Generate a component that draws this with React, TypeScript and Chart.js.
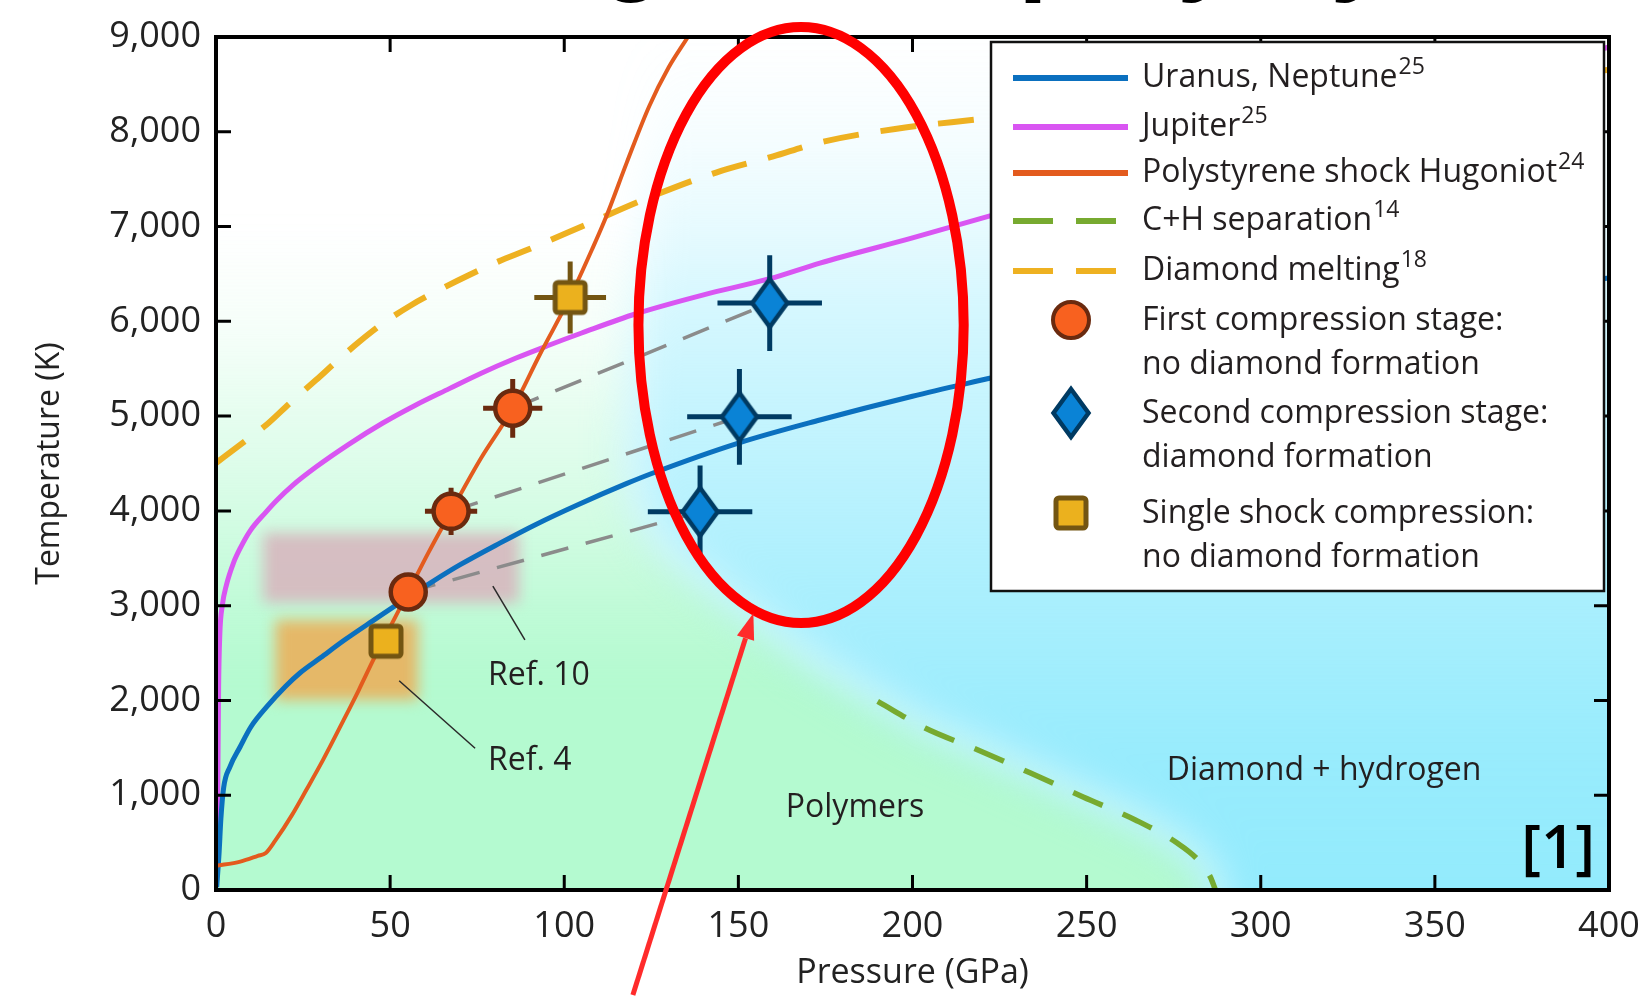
import React, { useEffect, useRef } from 'react';
import { Chart, registerables } from 'chart.js';

Chart.register(...registerables);

// ---------------- data (Pressure GPa, Temperature K) ----------------
const pressureTicks = [0, 50, 100, 150, 200, 250, 300, 350, 400];
const temperatureTicks = [0, 1000, 2000, 3000, 4000, 5000, 6000, 7000, 8000, 9000];

const uranusNeptune: [number, number][] = [
  [0.2, 30], [0.9, 400], [1.4, 750], [2.2, 1080], [4, 1300], [6.9, 1509], [10, 1720], [14.6, 1934],
  [20, 2150], [24.1, 2290], [30, 2450], [37, 2640], [45, 2840], [55.2, 3090], [62.4, 3260], [70, 3430],
  [81.5, 3660], [92, 3860], [103.6, 4060], [118, 4290], [125.5, 4400], [150, 4716], [173.4, 4959],
  [200, 5210], [222.5, 5402], [260, 5720], [300, 5980], [350, 6230], [400, 6457],
];

const jupiter: [number, number][] = [
  [0.2, 100], [0.5, 1000], [0.75, 2140], [1.1, 2700], [1.8, 3000], [3, 3220], [5, 3450], [7, 3610],
  [9.8, 3790], [14.4, 3990], [17.4, 4110], [22, 4270], [28.7, 4463], [38, 4700], [47.9, 4927], [57, 5110],
  [67, 5290], [76, 5450], [86, 5610], [95, 5740], [105, 5877], [120.6, 6080], [140, 6280], [159, 6450],
  [173.4, 6615], [200, 6880], [222.5, 7115], [260, 7520], [300, 7920], [350, 8420], [400, 8894],
];

const polystyreneHugoniot: [number, number][] = [
  [0, 255], [7, 300], [12, 360], [14.3, 390], [17, 520], [21.8, 790], [26, 1060], [30.7, 1370],
  [36.6, 1790], [41, 2110], [45.2, 2430], [48.8, 2690], [55.2, 3144], [61, 3560], [67.5, 3995],
  [76, 4550], [85.2, 5082], [93, 5650], [101.7, 6257], [108, 6760], [112, 7100], [118, 7680],
  [124.4, 8270], [130, 8680], [135.5, 9000], [138, 9150],
];

const chSeparation: [number, number][] = [
  [190, 1990], [203.6, 1709], [218.8, 1477], [233.9, 1234], [249, 981], [264, 739], [276, 496],
  [282, 317], [285.5, 140], [287, 0],
];

const diamondMelting: [number, number][] = [
  [0, 4505], [7, 4700], [14.4, 4906], [21, 5130], [28.7, 5380], [35, 5590], [41, 5780], [48, 5980],
  [56, 6170], [64, 6330], [72.7, 6489], [81, 6630], [90, 6763], [106, 7016], [122.6, 7280],
  [143.6, 7570], [160, 7740], [172.7, 7881], [195, 8030], [221.9, 8145], [260, 8330], [300, 8460],
  [350, 8570], [400, 8651],
];

const firstStageP = [55.2, 67.5, 85.2];
const firstStageT = [3144, 3995, 5082];
const firstStageErrP = [3, 7.5, 8.5];
const firstStageErrT = [120, 250, 310];

const secondStageP = [139, 150.3, 159];
const secondStageT = [3990, 4993, 6193];
const secondStageErrP = [15, 15, 15];
const secondStageErrT = [490, 505, 505];

const singleShockP = [48.8, 101.7];
const singleShockT = [2625, 6252];
const singleShockErrP = [2, 10.3];
const singleShockErrT = [80, 380];

// background phase regions
const polymerDiamondBoundary: [number, number][] = [
  [128, 10000], [124, 7500], [119, 5500], [118, 4500], [121, 4000], [128, 3600], [140, 3250],
  [155, 2850], [172, 2380], [190, 1990],
];
const ref10Box = { p: [13.5, 87], t: [3030, 3770] };
const ref4Box = { p: [17, 58], t: [2005, 2850] };
const ref10Leader: [number, number][] = [[79.5, 3207], [88.7, 2638]];
const ref4Leader: [number, number][] = [[52.6, 2208], [74.4, 1495]];

// highlight annotations
const highlightEllipse = { p: 168, t: 5961, rp: 46.7, rt: 3144 };
const highlightArrow: [number, number][] = [[119.7, -1108], [154.3, 2919]];

const regionLabels = [
  { text: 'Ref. 10', p: 78.1, t: 2163, align: 'left' },
  { text: 'Ref. 4', p: 78.1, t: 1266, align: 'left' },
  { text: 'Polymers', p: 183.5, t: 770, align: 'center' },
  { text: 'Diamond + hydrogen', p: 318.2, t: 1160, align: 'center' },
];

// ---------------- styling ----------------
const FONT = '"Open Sans", "Noto Sans", sans-serif';
const TEXT = '#231f20';
const C_URANUS = '#0b70bf';
const C_JUPITER = '#d955f2';
const C_HUGONIOT = '#e35b1e';
const C_CH = '#77aa30';
const C_MELT = '#eeb121';
const C_GREY = '#8b8b8b';
const C_CIRCLE = '#f8611f';
const C_CIRCLE_EDGE = '#6a2a0f';
const C_DIAMOND = '#0a83d6';
const C_DIAMOND_EDGE = '#003a62';
const C_SQUARE = '#ebb11e';
const C_SQUARE_EDGE = '#735512';

const toXY = (arr: [number, number][]) => arr.map(([p, t]) => ({ x: p, y: t }));

function errorSegments(P: number[], T: number[], eP: number[], eT: number[]) {
  const pts: { x: number; y: number | null }[] = [];
  P.forEach((p, i) => {
    pts.push({ x: p - eP[i], y: T[i] }, { x: p + eP[i], y: T[i] }, { x: p, y: null });
    pts.push({ x: p, y: T[i] - eT[i] }, { x: p, y: T[i] + eT[i] }, { x: p, y: null });
  });
  return pts;
}

function connectorSegments() {
  const pts: { x: number; y: number | null }[] = [];
  firstStageP.forEach((p, i) => {
    pts.push({ x: p, y: firstStageT[i] }, { x: secondStageP[i], y: secondStageT[i] }, { x: secondStageP[i], y: null });
  });
  return pts;
}

function makeDiamond() {
  const hw = 17.5, hh = 24, lw = 4.5;
  const c = document.createElement('canvas');
  c.width = 46; c.height = 60;
  const g = c.getContext('2d')!;
  const cx = c.width / 2, cy = c.height / 2;
  g.beginPath();
  g.moveTo(cx, cy - hh); g.lineTo(cx + hw, cy); g.lineTo(cx, cy + hh); g.lineTo(cx - hw, cy); g.closePath();
  g.fillStyle = C_DIAMOND; g.fill();
  g.lineWidth = lw; g.lineJoin = 'miter'; g.strokeStyle = C_DIAMOND_EDGE; g.stroke();
  return c;
}

function makeSquare() {
  const s = 30, lw = 5;
  const c = document.createElement('canvas');
  c.width = 40; c.height = 40;
  const g = c.getContext('2d')!;
  const o = (c.width - s) / 2;
  g.beginPath();
  (g as any).roundRect ? (g as any).roundRect(o, o, s, s, 3) : g.rect(o, o, s, s);
  g.fillStyle = C_SQUARE; g.fill();
  g.lineWidth = lw; g.strokeStyle = C_SQUARE_EDGE; g.stroke();
  return c;
}

function addStops(grad: CanvasGradient, stops: [number, number][], rgb: string) {
  stops.forEach(([t, a]) => grad.addColorStop(Math.min(1, Math.max(0, (9000 - t) / 9000)), `rgba(${rgb},${a})`));
}

function makeBackgroundPlugin() {
  return {
    id: 'phaseBackground',
    beforeDatasetsDraw(chart: any) {
      const { ctx, chartArea: a, scales } = chart;
      const X = (p: number) => scales.x.getPixelForValue(p);
      const Y = (t: number) => scales.y.getPixelForValue(t);
      ctx.save();
      ctx.beginPath();
      ctx.rect(a.left, a.top, a.right - a.left, a.bottom - a.top);
      ctx.clip();
      ctx.fillStyle = '#ffffff';
      ctx.fillRect(a.left, a.top, a.right - a.left, a.bottom - a.top);

      const y0 = Y(9000), y1 = Y(0);
      // polymers (green) region
      const gGreen = ctx.createLinearGradient(0, y0, 0, y1);
      addStops(gGreen, [[9000, 0], [7000, 0], [5900, 0.12], [4900, 0.36], [4000, 0.56], [3000, 0.84], [2200, 1], [0, 1]], '180,250,208');
      ctx.filter = 'blur(16px)';
      ctx.beginPath();
      ctx.moveTo(X(-50), Y(-1000));
      ctx.lineTo(X(-50), Y(10000));
      polymerDiamondBoundary.forEach(([p, t]) => ctx.lineTo(X(p), Y(t)));
      chSeparation.forEach(([p, t]) => ctx.lineTo(X(p), Y(t)));
      ctx.lineTo(X(287), Y(-1000));
      ctx.closePath();
      ctx.fillStyle = gGreen;
      ctx.fill();

      // diamond + hydrogen (cyan) region
      const gCyan = ctx.createLinearGradient(0, y0, 0, y1);
      addStops(gCyan, [[9000, 0], [8000, 0.08], [7000, 0.22], [6200, 0.38], [4100, 0.66], [3000, 0.8], [1500, 0.95], [0, 1]], '147,235,253');
      ctx.filter = 'blur(22px)';
      ctx.beginPath();
      ctx.moveTo(X(450), Y(10000));
      ctx.lineTo(X(450), Y(-1000));
      ctx.lineTo(X(287), Y(-1000));
      [...chSeparation].reverse().forEach(([p, t]) => ctx.lineTo(X(p), Y(t)));
      [...polymerDiamondBoundary].reverse().forEach(([p, t]) => ctx.lineTo(X(p), Y(t)));
      ctx.closePath();
      ctx.fillStyle = gCyan;
      ctx.fill();

      // previous-experiment regions
      ctx.filter = 'blur(7px)';
      ctx.fillStyle = 'rgba(214,186,192,0.95)';
      ctx.fillRect(X(ref10Box.p[0]), Y(ref10Box.t[1]), X(ref10Box.p[1]) - X(ref10Box.p[0]), Y(ref10Box.t[0]) - Y(ref10Box.t[1]));
      ctx.fillStyle = 'rgba(230,182,100,0.97)';
      ctx.fillRect(X(ref4Box.p[0]), Y(ref4Box.t[1]), X(ref4Box.p[1]) - X(ref4Box.p[0]), Y(ref4Box.t[0]) - Y(ref4Box.t[1]));
      ctx.filter = 'none';

      // leader lines
      ctx.strokeStyle = '#2a2a2a';
      ctx.lineWidth = 1.5;
      [ref10Leader, ref4Leader].forEach((seg) => {
        ctx.beginPath();
        ctx.moveTo(X(seg[0][0]), Y(seg[0][1]));
        ctx.lineTo(X(seg[1][0]), Y(seg[1][1]));
        ctx.stroke();
      });

      // region labels
      ctx.fillStyle = TEXT;
      ctx.font = `32px ${FONT}`;
      ctx.textBaseline = 'alphabetic';
      regionLabels.forEach((l) => {
        ctx.textAlign = l.align as CanvasTextAlign;
        ctx.fillText(l.text, X(l.p), Y(l.t));
      });
      ctx.restore();
    },
  };
}

function makeOverlayPlugin(diamondImg: HTMLCanvasElement, squareImg: HTMLCanvasElement) {
  return {
    id: 'overlay',
    afterDatasetsDraw(chart: any) {
      const { ctx, chartArea: a, scales } = chart;
      const X = (p: number) => scales.x.getPixelForValue(p);
      const Y = (t: number) => scales.y.getPixelForValue(t);
      ctx.save();

      // frame with inward ticks on all sides
      ctx.strokeStyle = '#000';
      ctx.lineWidth = 4;
      ctx.strokeRect(a.left, a.top, a.right - a.left, a.bottom - a.top);
      ctx.lineWidth = 3;
      ctx.beginPath();
      pressureTicks.slice(1, -1).forEach((v) => {
        const px = X(v);
        ctx.moveTo(px, a.bottom); ctx.lineTo(px, a.bottom - 15);
        ctx.moveTo(px, a.top); ctx.lineTo(px, a.top + 15);
      });
      temperatureTicks.slice(1, -1).forEach((v) => {
        const py = Y(v);
        ctx.moveTo(a.left, py); ctx.lineTo(a.left + 15, py);
        ctx.moveTo(a.right, py); ctx.lineTo(a.right - 15, py);
      });
      ctx.stroke();

      // legend
      const W = 613, H = 549;
      const L = a.right - 5 - W, T = a.top + 5;
      ctx.fillStyle = '#fff';
      ctx.fillRect(L, T, W, H);
      ctx.strokeStyle = '#111';
      ctx.lineWidth = 2.5;
      ctx.strokeRect(L, T, W, H);

      const items = [
        { kind: 'line', color: C_URANUS, label: 'Uranus, Neptune', sup: '25', dy: 34 },
        { kind: 'line', color: C_JUPITER, label: 'Jupiter', sup: '25', dy: 83 },
        { kind: 'line', color: C_HUGONIOT, label: 'Polystyrene shock Hugoniot', sup: '24', dy: 129 },
        { kind: 'dash', color: C_CH, label: 'C+H separation', sup: '14', dy: 177 },
        { kind: 'dash', color: C_MELT, label: 'Diamond melting', sup: '18', dy: 227 },
        { kind: 'circle', label: 'First compression stage:', line2: 'no diamond formation', dy: 277 },
        { kind: 'diamond', label: 'Second compression stage:', line2: 'diamond formation', dy: 370 },
        { kind: 'square', label: 'Single shock compression:', line2: 'no diamond formation', dy: 470 },
      ];
      const lx0 = L + 22, lx1 = L + 137, tx = L + 151, mx = L + 80;
      items.forEach((it: any) => {
        const cy = T + it.dy;
        if (it.kind === 'line') {
          ctx.strokeStyle = it.color; ctx.lineWidth = 6; ctx.setLineDash([]);
          ctx.beginPath(); ctx.moveTo(lx0, cy + 2); ctx.lineTo(lx1, cy + 2); ctx.stroke();
        } else if (it.kind === 'dash') {
          ctx.strokeStyle = it.color; ctx.lineWidth = 6;
          ctx.beginPath(); ctx.moveTo(lx0, cy + 2); ctx.lineTo(lx0 + 40, cy + 2);
          ctx.moveTo(lx0 + 63, cy + 2); ctx.lineTo(lx0 + 103, cy + 2); ctx.stroke();
        } else if (it.kind === 'circle') {
          ctx.beginPath(); ctx.arc(mx, cy + 1, 18, 0, Math.PI * 2);
          ctx.fillStyle = C_CIRCLE; ctx.fill();
          ctx.lineWidth = 4; ctx.strokeStyle = C_CIRCLE_EDGE; ctx.stroke();
        } else if (it.kind === 'diamond') {
          ctx.drawImage(diamondImg, mx - diamondImg.width / 2, cy + 1 - diamondImg.height / 2);
        } else if (it.kind === 'square') {
          ctx.drawImage(squareImg, mx - squareImg.width / 2, cy + 1 - squareImg.height / 2);
        }
        ctx.fillStyle = TEXT;
        ctx.textAlign = 'left';
        ctx.textBaseline = 'alphabetic';
        ctx.font = `32px ${FONT}`;
        ctx.fillText(it.label, tx, cy + 11);
        if (it.sup) {
          const w = ctx.measureText(it.label).width;
          ctx.font = `23px ${FONT}`;
          ctx.fillText(it.sup, tx + w + 1, cy - 2);
        }
        if (it.line2) {
          ctx.font = `32px ${FONT}`;
          ctx.fillText(it.line2, tx, cy + 11 + 44);
        }
      });

      // red highlight ellipse
      const ecx = X(highlightEllipse.p), ecy = Y(highlightEllipse.t);
      const erx = X(highlightEllipse.p + highlightEllipse.rp) - ecx;
      const ery = ecy - Y(highlightEllipse.t + highlightEllipse.rt);
      ctx.beginPath();
      ctx.ellipse(ecx, ecy, erx, ery, 0, 0, Math.PI * 2);
      ctx.strokeStyle = '#ff0000';
      ctx.lineWidth = 10;
      ctx.stroke();

      // red arrow
      const ax0 = X(highlightArrow[0][0]), ay0 = Y(highlightArrow[0][1]);
      const ax1 = X(highlightArrow[1][0]), ay1 = Y(highlightArrow[1][1]);
      const ang = Math.atan2(ay1 - ay0, ax1 - ax0);
      const headLen = 26, headHalf = 9;
      const bx = ax1 - headLen * Math.cos(ang), by = ay1 - headLen * Math.sin(ang);
      ctx.strokeStyle = '#ff2b2b';
      ctx.fillStyle = '#ff2b2b';
      ctx.lineWidth = 5;
      ctx.beginPath(); ctx.moveTo(ax0, ay0); ctx.lineTo(bx, by); ctx.stroke();
      ctx.beginPath();
      ctx.moveTo(ax1, ay1);
      ctx.lineTo(bx + headHalf * Math.sin(ang), by - headHalf * Math.cos(ang));
      ctx.lineTo(bx - headHalf * Math.sin(ang), by + headHalf * Math.cos(ang));
      ctx.closePath(); ctx.fill();

      // source tag
      ctx.fillStyle = '#000';
      ctx.font = `600 60px ${FONT}`;
      ctx.textAlign = 'center';
      ctx.textBaseline = 'alphabetic';
      ctx.fillText('[1]', X(385.4), Y(232));

      // title of the original slide, almost entirely cut off above the picture
      ctx.font = 'bold 106px "Liberation Sans", Arial, sans-serif';
      ctx.textAlign = 'left';
      const prefixW = ctx.measureText('Phase dia').width;
      ctx.fillText('Phase diagram of polystyrene', 600 - prefixW, -19);

      ctx.restore();
    },
  };
}

const zeroPadding = (s: any) => {
  s.paddingLeft = 0; s.paddingRight = 0; s.paddingTop = 0; s.paddingBottom = 0;
};

export default function App() {
  const ref = useRef<HTMLCanvasElement>(null);

  useEffect(() => {
    const canvas = ref.current;
    if (!canvas) return;
    const diamondImg = makeDiamond();
    const squareImg = makeSquare();

    const curve = (label: string, data: [number, number][], color: string, width: number, order: number, dash: number[] = []) => ({
      label,
      data: toXY(data),
      borderColor: color,
      borderWidth: width,
      borderDash: dash,
      borderCapStyle: 'butt',
      pointRadius: 0,
      fill: false,
      cubicInterpolationMode: 'monotone',
      order,
    });

    const datasets: any[] = [
      {
        label: 'First compression stage',
        data: firstStageP.map((p, i) => ({ x: p, y: firstStageT[i] })),
        showLine: false,
        pointStyle: 'circle',
        pointRadius: 17.5,
        pointBorderWidth: 4.5,
        pointBackgroundColor: C_CIRCLE,
        pointBorderColor: C_CIRCLE_EDGE,
        order: 0,
      },
      {
        label: 'Second compression stage',
        data: secondStageP.map((p, i) => ({ x: p, y: secondStageT[i] })),
        showLine: false,
        pointStyle: diamondImg,
        pointRadius: 20,
        order: 0,
      },
      {
        label: 'Single shock compression',
        data: singleShockP.map((p, i) => ({ x: p, y: singleShockT[i] })),
        showLine: false,
        pointStyle: squareImg,
        pointRadius: 18,
        order: 0,
      },
      {
        label: 'first stage error',
        data: errorSegments(firstStageP, firstStageT, firstStageErrP, firstStageErrT),
        borderColor: C_CIRCLE_EDGE, borderWidth: 5, pointRadius: 0, spanGaps: false, borderCapStyle: 'butt', order: 1,
      },
      {
        label: 'second stage error',
        data: errorSegments(secondStageP, secondStageT, secondStageErrP, secondStageErrT),
        borderColor: C_DIAMOND_EDGE, borderWidth: 5, pointRadius: 0, spanGaps: false, borderCapStyle: 'butt', order: 1,
      },
      {
        label: 'single shock error',
        data: errorSegments(singleShockP, singleShockT, singleShockErrP, singleShockErrT),
        borderColor: C_SQUARE_EDGE, borderWidth: 5, pointRadius: 0, spanGaps: false, borderCapStyle: 'butt', order: 1,
      },
      curve('Polystyrene shock Hugoniot', polystyreneHugoniot, C_HUGONIOT, 4, 2),
      curve('Uranus, Neptune', uranusNeptune, C_URANUS, 5, 3),
      curve('Jupiter', jupiter, C_JUPITER, 5, 3),
      curve('C+H separation', chSeparation, C_CH, 5.5, 3, [32, 22]),
      curve('Diamond melting', diamondMelting, C_MELT, 6, 3, [36, 22]),
      {
        label: 'stage connectors',
        data: connectorSegments(),
        borderColor: C_GREY, borderWidth: 3.5, borderDash: [28, 18], pointRadius: 0, spanGaps: false, order: 4,
      },
    ];

    const chart = new Chart(canvas, {
      type: 'line',
      data: { datasets },
      options: {
        animation: false,
        responsive: false,
        devicePixelRatio: 1,
        events: [],
        layout: { padding: { left: 0, top: 37, right: 37, bottom: 0 } },
        plugins: { legend: { display: false }, tooltip: { enabled: false }, title: { display: false } },
        scales: {
          x: {
            type: 'linear',
            min: 0,
            max: 400,
            afterBuildTicks: (s: any) => { s.ticks = pressureTicks.map((v) => ({ value: v })); },
            afterFit: (s: any) => { s.height = 106; zeroPadding(s); },
            grid: { display: false, drawTicks: false },
            border: { display: false },
            ticks: {
              autoSkip: false,
              maxRotation: 0,
              padding: 15,
              color: '#222',
              font: { size: 36, family: FONT },
              callback: (v: any) => String(v),
            },
            title: {
              display: true,
              text: 'Pressure (GPa)',
              color: '#222',
              font: { size: 34, family: FONT },
              padding: { top: 0, bottom: 2 },
            },
          },
          y: {
            type: 'linear',
            min: 0,
            max: 9000,
            afterBuildTicks: (s: any) => { s.ticks = temperatureTicks.map((v) => ({ value: v })); },
            afterFit: (s: any) => { s.width = 216; zeroPadding(s); },
            grid: { display: false, drawTicks: false },
            border: { display: false },
            ticks: {
              autoSkip: false,
              padding: 15,
              color: '#222',
              font: { size: 36, family: FONT },
              callback: (v: any) => Number(v).toLocaleString('en-US'),
            },
            title: {
              display: true,
              text: 'Temperature (K)',
              color: '#222',
              font: { size: 32, family: FONT },
              padding: { top: 31, bottom: 0 },
            },
          },
        },
      } as any,
      plugins: [makeBackgroundPlugin(), makeOverlayPlugin(diamondImg, squareImg)],
    });

    return () => chart.destroy();
  }, []);

  return (
    <div style={{ position: 'fixed', left: 0, top: 0, width: 1646, height: 996, background: '#fff' }}>
      <canvas ref={ref} width={1646} height={996} style={{ display: 'block', width: 1646, height: 996 }} />
    </div>
  );
}
